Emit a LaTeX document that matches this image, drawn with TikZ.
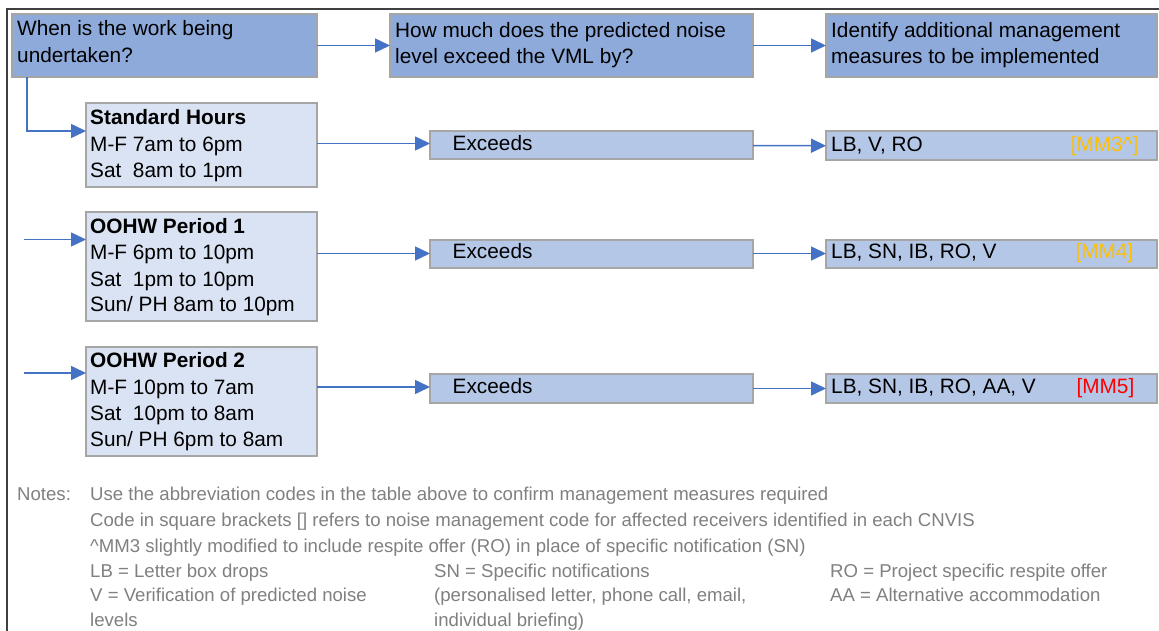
\documentclass[tikz,border=0pt]{standalone}
\usepackage{fontspec}
\setmainfont{Liberation Sans}
\usetikzlibrary{arrows.meta}
\definecolor{qblue}{HTML}{8EAADB}
\definecolor{lblue}{HTML}{DAE3F3}
\definecolor{mblue}{HTML}{B4C7E7}
\definecolor{bordergray}{HTML}{A6A6A6}
\definecolor{arrowblue}{HTML}{4472C4}
\definecolor{notegray}{HTML}{808080}
\definecolor{framegray}{HTML}{404040}
\definecolor{mmamber}{HTML}{FFC000}
\definecolor{mmred}{HTML}{FF0000}
\tikzset{
 boxbase/.style={draw=bordergray, line width=2pt, inner sep=0pt, outer sep=0pt, anchor=north west},
 qbox/.style={boxbase, fill=qblue},
 pbox/.style={boxbase, fill=lblue},
 ebox/.style={boxbase, fill=mblue},
 txt/.style={anchor=base west, inner sep=0pt, font=\fontsize{20.8}{25}\selectfont},
 btxt/.style={anchor=base west, inner sep=0pt, font=\fontsize{20.8}{25}\selectfont\bfseries},
 mmtxt/.style={anchor=base east, inner sep=0pt, font=\fontsize{20.8}{25}\selectfont},
 ntxt/.style={anchor=base west, inner sep=0pt, text=notegray, font=\fontsize{18.6}{24}\selectfont},
 arr/.style={draw=arrowblue, line width=1.5pt, -{Triangle[length=15pt,width=14pt]}},
}
\begin{document}
\begin{tikzpicture}[x=1pt,y=-1pt]
\useasboundingbox (0,0) rectangle (1159,631);
\fill[white] (0,0) rectangle (1159,631);
\draw[framegray, line width=1.6pt] (7,631) -- (7,9) -- (1159,9);

% header boxes
\node[qbox, minimum width=305pt, minimum height=63pt] (q1) at (12,14) {};
\node[qbox, minimum width=363pt, minimum height=63pt] (q2) at (390,14) {};
\node[qbox, minimum width=331pt, minimum height=63pt] (q3) at (826,14) {};
% period boxes
\node[pbox, minimum width=231pt, minimum height=84pt] (sh) at (86,103) {};
\node[pbox, minimum width=231pt, minimum height=109pt] (o1) at (86,212) {};
\node[pbox, minimum width=231pt, minimum height=109pt] (o2) at (86,347) {};
% exceeds boxes
\node[ebox, minimum width=323pt, minimum height=28pt] (e1) at (430,131.5) {};
\node[ebox, minimum width=323pt, minimum height=28pt] (e2) at (430,239.5) {};
\node[ebox, minimum width=323pt, minimum height=29pt] (e3) at (430,374) {};
% result boxes
\node[ebox, minimum width=331pt, minimum height=28.5pt] (r1) at (826,131.5) {};
\node[ebox, minimum width=331pt, minimum height=28pt] (r2) at (826,239.5) {};
\node[ebox, minimum width=331pt, minimum height=29pt] (r3) at (826,374) {};

% texts
\node[txt] (tq1a) at (17,36) {When is the work being};
\node[txt] (tq1b) at (17,62.5) {undertaken?};
\node[txt] (tq2a) at (395,37.5) {How much does the predicted noise};
\node[txt] (tq2b) at (395,63.5) {level exceed the VML by?};
\node[txt] (tq3a) at (831,37.5) {Identify additional management};
\node[txt] (tq3b) at (831,63.5) {measures to be implemented};

\node[btxt] (tsh1) at (90,124.5) {Standard Hours};
\node[txt] (tsh2) at (90,151.5) {M-F 7am to 6pm};
\node[txt] (tsh3) at (90,177.5) {Sat\ \ 8am to 1pm};

\node[btxt] (to11) at (90,233.5) {OOHW Period 1};
\node[txt] (to12) at (90,259.5) {M-F 6pm to 10pm};
\node[txt] (to13) at (90,286) {Sat\ \ 1pm to 10pm};
\node[txt] (to14) at (90,311) {Sun/ PH 8am to 10pm};

\node[btxt] (to21) at (90,367.5) {OOHW Period 2};
\node[txt] (to22) at (90,394) {M-F 10pm to 7am};
\node[txt] (to23) at (90,420.5) {Sat\ \ 10pm to 8am};
\node[txt] (to24) at (90,446) {Sun/ PH 6pm to 8am};

\node[txt] (te1) at (452.5,150.5) {Exceeds};
\node[txt] (te2) at (452.5,258.5) {Exceeds};
\node[txt] (te3) at (452.5,393) {Exceeds};

\node[txt] (tr1) at (831,152) {LB, V, RO};
\node[txt] (tr2) at (831,258.5) {LB, SN, IB, RO, V};
\node[txt] (tr3) at (831,393.5) {LB, SN, IB, RO, AA, V};
\node[mmtxt, text=mmamber] (tm1) at (1138.5,152) {[MM3\textasciicircum]};
\node[mmtxt, text=mmamber] (tm2) at (1133.5,258.5) {[MM4]};
\node[mmtxt, text=mmred] (tm3) at (1134.5,393.5) {[MM5]};

% connectors
\draw[arr] (q1.east) -- (q2.west);
\draw[arr] (q2.east) -- (q3.west);
\draw[arr] ([xshift=15pt]q1.south west) |- ([yshift=14pt]sh.west);
\coordinate (f1) at (24,239.5);
\coordinate (f2) at (24,373);
\draw[arr] (f1) -- (f1 -| o1.west);
\draw[arr] (f2) -- (f2 -| o2.west);
\draw[arr] ([yshift=2pt]e1.west -| sh.east) -- ([yshift=2pt]e1.west);
\draw[arr] (e2.west -| o1.east) -- (e2.west);
\draw[arr] ([yshift=1.5pt]e3.west -| o2.east) -- ([yshift=1.5pt]e3.west);
\draw[arr] (e1.east) -- (r1.west);
\draw[arr] (e2.east) -- (r2.west);
\draw[arr] (e3.east) -- (r3.west);

% notes
\node[ntxt] (n0) at (17,500) {Notes:};
\node[ntxt] (n1) at (90,500) {Use the abbreviation codes in the table above to confirm management measures required};
\node[ntxt] (n2) at (90,526) {Code in square brackets [] refers to noise management code for affected receivers identified in each CNVIS};
\node[ntxt] (n3) at (90,552) {\textasciicircum MM3 slightly modified to include respite offer (RO) in place of specific notification (SN)};
\node[ntxt] (n4a) at (90,577.5) {LB = Letter box drops};
\node[ntxt] (n4b) at (434,577.5) {SN = Specific notifications};
\node[ntxt] (n4c) at (830,577.5) {RO = Project specific respite offer};
\node[ntxt] (n5a) at (90,601) {V = Verification of predicted noise};
\node[ntxt] (n5b) at (434,601) {(personalised letter, phone call, email,};
\node[ntxt] (n5c) at (830,601) {AA = Alternative accommodation};
\node[ntxt] (n6a) at (90,626) {levels};
\node[ntxt] (n6b) at (434,626) {individual briefing)};
\end{tikzpicture}
\end{document}
